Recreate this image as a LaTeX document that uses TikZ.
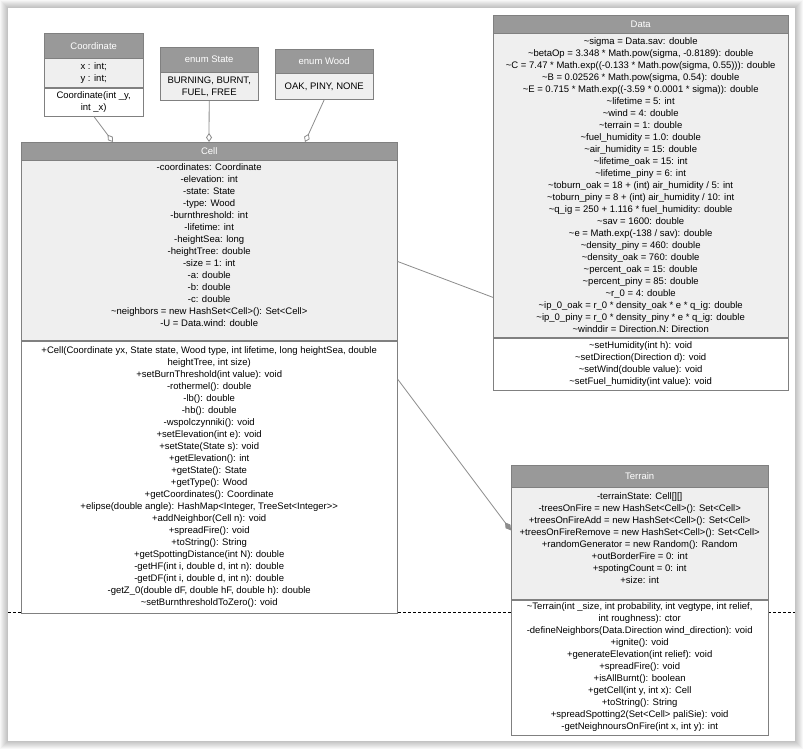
\documentclass[tikz,border=0pt]{standalone}
\usepackage{fontspec}
\setmainfont{Liberation Sans}
\usetikzlibrary{calc}
\usetikzlibrary{arrows.meta}
\definecolor{umlborder}{RGB}{128,128,128}
\definecolor{umlhead}{RGB}{153,153,153}
\definecolor{umlfield}{RGB}{239,239,239}
\definecolor{umlline}{RGB}{140,140,140}
\newcommand{\vis}{\textasciitilde}
\newcommand{\umlfont}{\fontsize{9.5}{12}\selectfont}

\begin{document}
\begin{tikzpicture}[x=1pt,y=-1pt]
\tikzstyle{header}=[draw=umlborder,fill=umlhead,text=white,anchor=north west,inner sep=0pt,font=\umlfont]
\tikzstyle{fields}=[draw=umlborder,fill=umlfield,anchor=north,inner sep=0pt,align=center,font=\umlfont]
\tikzstyle{methods}=[fields,fill=white]
\tikzstyle{aggreg}=[draw=umlline,line width=.8pt,-{Diamond[fill=white,length=9pt,width=6pt]}]
\tikzstyle{compos}=[draw=umlline,line width=.8pt,-{Diamond[fill=umlline,length=10pt,width=6pt]}]
\useasboundingbox (0,0) rectangle (803,749);

% page with its shadow
\coordinate (pageNW) at (8,8);
\coordinate (pageSE) at (795,741);
\fill[white] (0,0) rectangle (803,749);
\foreach \s in {1,...,8}
  \fill[black,opacity=.03] ($(pageNW)-(\s,\s)$) rectangle ($(pageSE)+(\s,\s)$);
\fill[white] (pageNW) rectangle (pageSE);
% page break
\coordinate (breakL) at (8,612);
\coordinate (breakR) at (795,612);
\draw[black,dash pattern=on 3pt off 2pt] (breakL) -- (breakR);

% Coordinate
\node[header,minimum width=99,minimum height=25] (coordHead) at (44,33) {Coordinate};
\node[fields,minimum width=99,minimum height=29] (coordAttr) at (coordHead.south) {x : int;\\ y : int;};
\node[methods,minimum width=99,minimum height=28] (coordOps) at (coordAttr.south) {Coordinate(int \_y,\\ int \_x)};

% enum State
\node[header,minimum width=98,minimum height=25] (stateHead) at (160,47) {enum State};
\node[fields,minimum width=98,minimum height=28] (stateVals) at (stateHead.south) {BURNING, BURNT,\\ FUEL, FREE};

% enum Wood
\node[header,minimum width=98,minimum height=24] (woodHead) at (275,49) {enum Wood};
\node[fields,minimum width=98,minimum height=26] (woodVals) at (woodHead.south) {OAK, PINY, NONE};

% Cell
\node[header,minimum width=376,minimum height=18] (cellHead) at (21,142) {Cell};
\node[fields,minimum width=376,minimum height=180] (cellAttr) at (cellHead.south) {-coordinates: Coordinate\\ -elevation: int\\ -state: State\\ -type: Wood\\ -burnthreshold: int\\ -lifetime: int\\ -heightSea: long\\ -heightTree: double\\ -size = 1: int\\ -a: double\\ -b: double\\ -c: double\\ \vis neighbors = new HashSet<Cell>(): Set<Cell>\\ -U = Data.wind: double\\ \mbox{}};
\node[methods,minimum width=376,minimum height=272] (cellOps) at (cellAttr.south) {+Cell(Coordinate yx, State state, Wood type, int lifetime, long heightSea, double\\ heightTree, int size)\\ +setBurnThreshold(int value): void\\ -rothermel(): double\\ -lb(): double\\ -hb(): double\\ -wspolczynniki(): void\\ +setElevation(int e): void\\ +setState(State s): void\\ +getElevation(): int\\ +getState(): State\\ +getType(): Wood\\ +getCoordinates(): Coordinate\\ +elipse(double angle): HashMap<Integer, TreeSet<Integer>{}>\\ +addNeighbor(Cell n): void\\ +spreadFire(): void\\ +toString(): String\\ +getSpottingDistance(int N): double\\ -getHF(int i, double d, int n): double\\ -getDF(int i, double d, int n): double\\ -getZ\_0(double dF, double hF, double h): double\\ \vis setBurnthresholdToZero(): void};

% Data
\node[header,minimum width=295,minimum height=18] (dataHead) at (493,15) {Data};
\node[fields,minimum width=295,minimum height=304] (dataAttr) at (dataHead.south) {\vis sigma = Data.sav: double\\ \vis betaOp = 3.348 * Math.pow(sigma, -0.8189): double\\ \vis C = 7.47 * Math.exp((-0.133 * Math.pow(sigma, 0.55))): double\\ \vis B = 0.02526 * Math.pow(sigma, 0.54): double\\ \vis E = 0.715 * Math.exp((-3.59 * 0.0001 * sigma)): double\\ \vis lifetime = 5: int\\ \vis wind = 4: double\\ \vis terrain = 1: double\\ \vis fuel\_humidity = 1.0: double\\ \vis air\_humidity = 15: double\\ \vis lifetime\_oak = 15: int\\ \vis lifetime\_piny = 6: int\\ \vis toburn\_oak = 18 + (int) air\_humidity / 5: int\\ \vis toburn\_piny = 8 + (int) air\_humidity / 10: int\\ \vis q\_ig = 250 + 1.116 * fuel\_humidity: double\\ \vis sav = 1600: double\\ \vis e = Math.exp(-138 / sav): double\\ \vis density\_piny = 460: double\\ \vis density\_oak = 760: double\\ \vis percent\_oak = 15: double\\ \vis percent\_piny = 85: double\\ \vis r\_0 = 4: double\\ \vis ip\_0\_oak = r\_0 * density\_oak * e * q\_ig: double\\ \vis ip\_0\_piny = r\_0 * density\_piny * e * q\_ig: double\\ \vis winddir = Direction.N: Direction};
\node[methods,minimum width=295,minimum height=52] (dataOps) at (dataAttr.south) {\vis setHumidity(int h): void\\ \vis setDirection(Direction d): void\\ \vis setWind(double value): void\\ \vis setFuel\_humidity(int value): void};

% Terrain
\node[header,minimum width=257,minimum height=22] (terrainHead) at (511,465) {Terrain};
\node[fields,minimum width=257,minimum height=112] (terrainAttr) at (terrainHead.south) {-terrainState: Cell[][]\\ -treesOnFire = new HashSet<Cell>(): Set<Cell>\\ +treesOnFireAdd = new HashSet<Cell>(): Set<Cell>\\ +treesOnFireRemove = new HashSet<Cell>(): Set<Cell>\\ +randomGenerator = new Random(): Random\\ +outBorderFire = 0: int\\ +spotingCount = 0: int\\ +size: int\\ \mbox{}};
\node[methods,minimum width=257,minimum height=135] (terrainOps) at (terrainAttr.south) {\vis Terrain(int \_size, int probability, int vegtype, int relief,\\ int roughness): ctor\\ -defineNeighbors(Data.Direction wind\_direction): void\\ +ignite(): void\\ +generateElevation(int relief): void\\ +spreadFire(): void\\ +isAllBurnt(): boolean\\ +getCell(int y, int x): Cell\\ +toString(): String\\ +spreadSpotting2(Set<Cell> paliSie): void\\ -getNeighnoursOnFire(int x, int y): int};

% links
\draw[aggreg] (coordOps.south) -- ($(cellHead.north west)+(92,0)$);
\draw[aggreg] (stateVals.south) -- ($(cellHead.north west)+(188,0)$);
\draw[aggreg] (woodVals.south) -- ($(cellHead.north west)+(284,0)$);
\draw[umlline,line width=.8pt] ($(cellAttr.north east)+(0,101)$) -- ($(dataAttr.north west)+(0,264)$);
\draw[compos] ($(cellOps.north east)+(0,38)$) -- ($(terrainAttr.north west)+(0,43)$);

\end{tikzpicture}
\end{document}
